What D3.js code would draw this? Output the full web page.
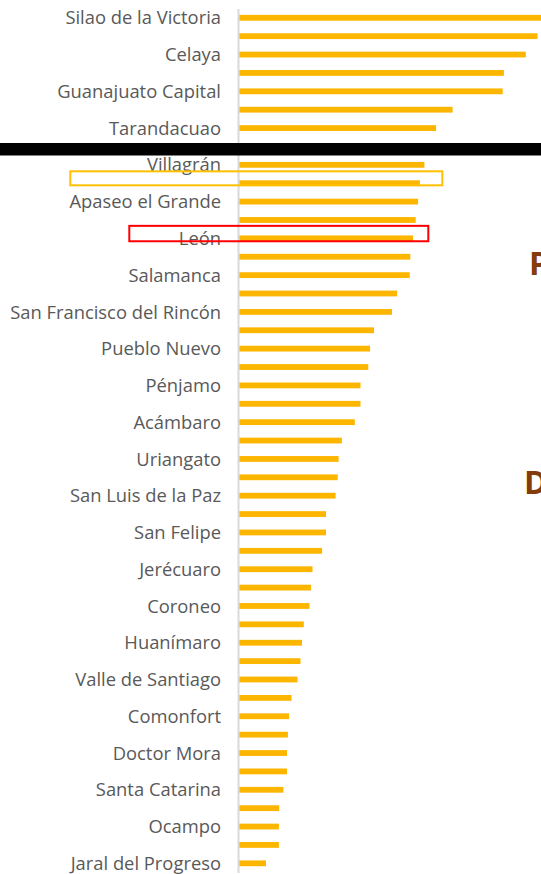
<!DOCTYPE html>
<html>
<head>
<meta charset="utf-8">
<script src="https://cdn.jsdelivr.net/npm/d3@7"></script>
<style>
  html, body { margin: 0; padding: 0; background: #ffffff; }
  svg { display: block; }
</style>
</head>
<body>
<svg id="chart" width="541" height="874"></svg>
<script>
// Municipios de Guanajuato, ordenados de mayor a menor
const municipios = [
  "Silao de la Victoria", "Irapuato", "Celaya", "San Miguel de Allende",
  "Guanajuato Capital", "Cortazar", "Tarandacuao", "Moroleón",
  "Villagrán", "Estado de Guanajuato", "Apaseo el Grande", "Purísima del Rincón",
  "León", "Dolores Hidalgo", "Salamanca", "Yuriria",
  "San Francisco del Rincón", "Salvatierra", "Pueblo Nuevo", "San José Iturbide",
  "Pénjamo", "Abasolo", "Acámbaro", "Apaseo el Alto",
  "Uriangato", "Santa Cruz de Juventino Rosas", "San Luis de la Paz", "Romita",
  "San Felipe", "Cuerámaro", "Jerécuaro", "Manuel Doblado",
  "Coroneo", "Tarimoro", "Huanímaro", "Santiago Maravatío",
  "Valle de Santiago", "Victoria", "Comonfort", "San Diego de la Unión",
  "Doctor Mora", "Tierra Blanca", "Santa Catarina", "Atarjea",
  "Ocampo", "Xichú", "Jaral del Progreso"
];

const valores = [
  104.0, 99.5, 95.6, 88.3,
  87.9, 71.2, 65.7, 63.5,
  61.8, 60.3, 59.7, 58.9,
  58.0, 57.1, 56.9, 52.7,
  51.0, 45.0, 43.7, 43.1,
  40.5, 40.5, 38.6, 34.3,
  33.2, 32.9, 32.2, 29.0,
  29.0, 27.7, 24.5, 24.0,
  23.5, 21.6, 21.0, 20.5,
  19.5, 17.5, 16.7, 16.3,
  16.0, 16.0, 14.8, 13.4,
  13.3, 13.3, 9.0
];

// Sólo se rotula uno de cada dos municipios en el eje
const etiquetasVisibles = municipios.filter((d, i) => i % 2 === 0);

// Filas resaltadas
const resaltadoAmarillo = "Estado de Guanajuato";
const resaltadoRojo = "León";

// Letras de los rótulos laterales
const rotulosLaterales = [
  { texto: "P", fila: "Salamanca" },
  { texto: "D", fila: "San Luis de la Paz" }
];

const data = municipios.map((m, i) => ({ municipio: m, valor: valores[i] }));

const W = 541, H = 874;
const svg = d3.select("#chart");
const fuente = "'Open Sans', 'Noto Sans', sans-serif";

const x0 = 238;
const x = d3.scaleLinear().domain([0, 100]).range([x0 + 1, x0 + 301]);
const y = d3.scaleBand()
  .domain(municipios)
  .range([8.6, 872.5])
  .paddingInner(0.684)
  .paddingOuter(0.342);

// Tamaño de letra: la etiqueta más larga ocupa 211 px
const prueba = svg.append("text")
  .style("font-family", fuente)
  .style("font-size", "100px")
  .text("San Francisco del Rincón");
const anchoPrueba = prueba.node().getComputedTextLength();
prueba.remove();
const tamLetra = Math.min(19, 100 * 211 / anchoPrueba);

// Barras
svg.append("g")
  .selectAll("rect")
  .data(data)
  .join("rect")
  .attr("x", x(0))
  .attr("y", d => y(d.municipio))
  .attr("width", d => x(d.valor) - x(0))
  .attr("height", y.bandwidth())
  .attr("fill", "#FDB600");

// Eje vertical con los nombres
const eje = svg.append("g")
  .attr("transform", `translate(${x0},0)`)
  .call(d3.axisLeft(y)
    .tickSize(0)
    .tickSizeOuter(0)
    .tickPadding(17)
    .tickFormat(d => etiquetasVisibles.includes(d) ? d : ""));

eje.select(".domain")
  .attr("stroke", "#d9d9d9")
  .attr("stroke-width", 2);

eje.selectAll(".tick text")
  .attr("fill", "#595959")
  .attr("dy", "0.36em")
  .style("font-family", fuente)
  .style("font-size", tamLetra + "px");

// Franja negra horizontal
svg.append("rect")
  .attr("x", 0)
  .attr("y", 143)
  .attr("width", W)
  .attr("height", 12.5)
  .attr("fill", "#000000");

// Recuadro amarillo (estado)
const yA = y(resaltadoAmarillo);
svg.append("rect")
  .attr("x", 70.3)
  .attr("y", yA - 9)
  .attr("width", 372)
  .attr("height", 14)
  .attr("fill", "none")
  .attr("stroke", "#FFC000")
  .attr("stroke-width", 2);

// Recuadro rojo (León)
const yR = y(resaltadoRojo);
svg.append("rect")
  .attr("x", 129.3)
  .attr("y", yR - 9.6)
  .attr("width", 299)
  .attr("height", 15.4)
  .attr("fill", "none")
  .attr("stroke", "#FF0000")
  .attr("stroke-width", 2);

// Rótulos laterales (cortados por el borde derecho)
svg.append("g")
  .selectAll("text")
  .data(rotulosLaterales)
  .join("text")
  .attr("x", (d, i) => i === 0 ? 529 : 524)
  .attr("y", (d, i) => i === 0 ? 274.7 : 493.7)
  .attr("fill", "#843C0C")
  .style("font-family", fuente)
  .style("font-weight", "bold")
  .style("font-size", "32px")
  .text(d => d.texto);
</script>
</body>
</html>
